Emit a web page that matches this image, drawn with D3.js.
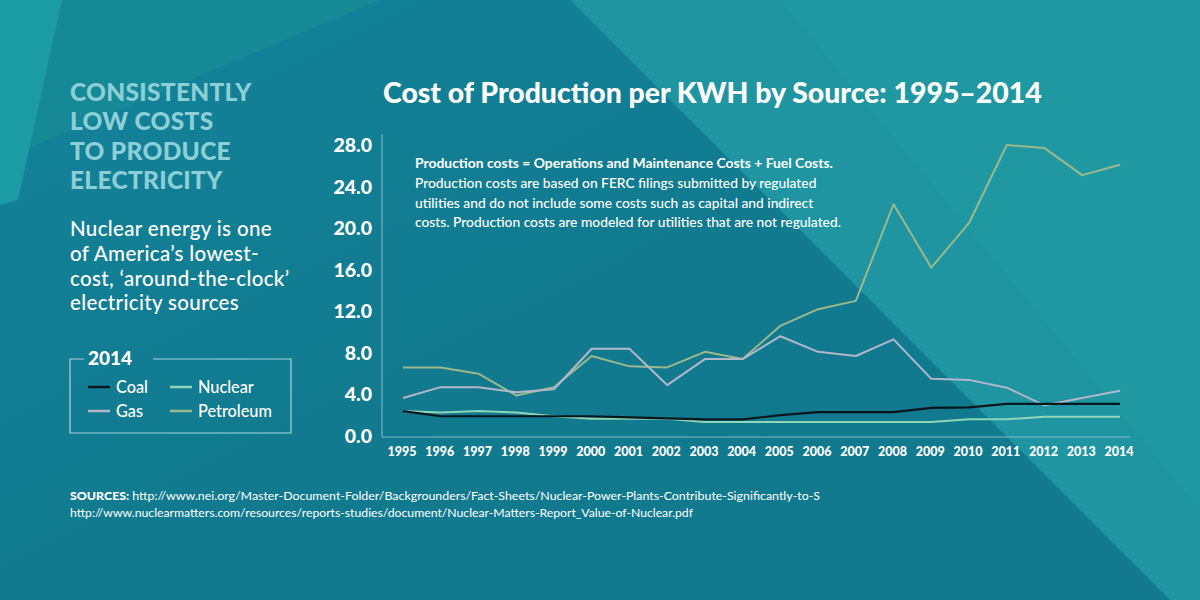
<!DOCTYPE html>
<html><head><meta charset="utf-8">
<script src="https://cdn.jsdelivr.net/npm/d3@7"></script>
<style>
html,body{margin:0;padding:0;background:#127b90;}
svg{display:block;}
text{font-family:Lato,"Open Sans",sans-serif;}
</style></head>
<body><svg id="c" width="1200" height="600"></svg>
<script>
const years = [1995,1996,1997,1998,1999,2000,2001,2002,2003,2004,2005,2006,2007,2008,2009,2010,2011,2012,2013,2014];
const coal      = [2.4,1.9,1.9,1.9,1.9,1.9,1.8,1.7,1.6,1.6,2.0,2.3,2.3,2.3,2.7,2.75,3.1,3.1,3.1,3.1];
const nuclear   = [2.4,2.25,2.4,2.25,1.9,1.65,1.65,1.65,1.35,1.35,1.35,1.35,1.35,1.35,1.35,1.6,1.6,1.85,1.85,1.85];
const gas       = [3.65,4.7,4.7,4.2,4.5,8.4,8.4,4.9,7.4,7.4,9.6,8.1,7.7,9.3,5.5,5.4,4.65,2.95,3.65,4.35];
const petroleum = [6.6,6.6,6.0,3.9,4.7,7.7,6.7,6.6,8.1,7.4,10.6,12.2,13.0,22.3,16.2,20.5,28.0,27.7,25.1,26.1];
const yTicks = [0,4,8,12,16,20,24,28];
const seriesNames = ["Coal","Nuclear","Gas","Petroleum"];
const seriesColors = ["#07171c","#8fd6b6","#b2b7ca","#9cb98b"];

const svg = d3.select("#c");

// background
const defs = svg.append("defs");
const g1 = defs.append("linearGradient").attr("id","bg").attr("x1","0").attr("y1","0").attr("x2","1").attr("y2","1");
g1.append("stop").attr("offset","0").attr("stop-color","#13839a");
g1.append("stop").attr("offset","0.5").attr("stop-color","#117a8f");
g1.append("stop").attr("offset","1").attr("stop-color","#12798e");
svg.append("rect").attr("width",1200).attr("height",600).attr("fill","url(#bg)");
const bgPolys = [
  {pts:[[0,0],[380,0],[0,160]], c:"#168996", o:0.9},
  {pts:[[0,0],[62,0],[18,200],[0,205]], c:"#1b9ca5", o:1},
  {pts:[[470,0],[1200,0],[1200,600],[1170,600],[610,0]], c:"#1a8c9c", o:0.6},
  {pts:[[570,0],[1200,0],[1200,600],[1170,600]], c:"#1e95a1", o:1},
  {pts:[[780,0],[1200,0],[1200,510]], c:"#1f98a2", o:1}
];
svg.selectAll("polygon.bg").data(bgPolys).join("polygon").attr("class","bg")
  .attr("points",d=>d.pts.map(p=>p.join(",")).join(" "))
  .attr("fill",d=>d.c).attr("opacity",d=>d.o);

// left heading
const head = ["CONSISTENTLY","LOW COSTS","TO PRODUCE","ELECTRICITY"];
svg.selectAll("text.head").data(head).join("text").attr("class","head")
  .attr("x",70).attr("y",(d,i)=>101+i*29.3).text(d=>d)
  .attr("fill","#8dcfd6").attr("font-size",24.5).attr("font-weight",900).attr("letter-spacing",0.3);
const para = ["Nuclear energy is one","of America\u2019s lowest-","cost, \u2018around-the-clock\u2019","electricity sources"];
svg.selectAll("text.para").data(para).join("text").attr("class","para")
  .attr("x",70).attr("y",(d,i)=>236+i*24.8).text(d=>d)
  .attr("fill","#ffffff").attr("font-size",20.5).attr("font-weight",500).attr("letter-spacing",0.35);

// title
svg.append("text").attr("x",383).attr("y",103).text("Cost of Production per KWH by Source: 1995\u20132014")
  .attr("fill","#fff").attr("font-size",28.4).attr("font-weight",900);

// scales
const x = d3.scalePoint().domain(years).range([403,1120]);
const y = d3.scaleLinear().domain([0,28]).range([436,145]);

// axes lines
svg.append("line").attr("x1",382).attr("x2",382).attr("y1",134).attr("y2",y(0)+1)
  .attr("stroke","#7fb9c4").attr("stroke-opacity",0.7).attr("stroke-width",1.5);
svg.append("line").attr("x1",382).attr("x2",1130).attr("y1",y(0)+1).attr("y2",y(0)+1)
  .attr("stroke","#7fb9c4").attr("stroke-opacity",0.7).attr("stroke-width",1.5);

// y tick labels
svg.selectAll("text.yt").data(yTicks).join("text").attr("class","yt")
  .attr("x",372).attr("y",d=>y(d)).attr("dy","0.36em").attr("text-anchor","end")
  .text(d3.format(".1f")).attr("fill","#fff").attr("font-size",19.5).attr("font-weight",900);
// x tick labels
svg.selectAll("text.xt").data(years).join("text").attr("class","xt")
  .attr("x",d=>x(d)-1).attr("y",456).attr("text-anchor","middle")
  .text(d=>d).attr("fill","#fff").attr("font-size",12.5).attr("font-weight",900);

// annotation
const note = ["Production costs are based on FERC filings submitted by regulated",
  "utilities and do not include some costs such as capital and indirect",
  "costs. Production costs are modeled for utilities that are not regulated."];
svg.append("text").attr("x",415).attr("y",168).text("Production costs = Operations and Maintenance Costs + Fuel Costs.")
  .attr("fill","#fff").attr("font-size",13.9).attr("font-weight",700);
svg.selectAll("text.note").data(note).join("text").attr("class","note")
  .attr("x",415).attr("y",(d,i)=>188+i*19.6).text(d=>d)
  .attr("fill","#fff").attr("font-size",13.8).attr("font-weight",500);

// lines
const allSeries = [coal,nuclear,gas,petroleum];
const line = d3.line().x((d,i)=>x(years[i])).y(d=>y(d));
const drawOrder = [3,2,1,0];
svg.selectAll("path.s").data(drawOrder).join("path").attr("class","s")
  .attr("d",k=>line(allSeries[k])).attr("fill","none")
  .attr("stroke",k=>seriesColors[k]).attr("stroke-width",k=>k===0?2.2:2)
  .attr("stroke-linejoin","round");

// legend
const lg = svg.append("g");
lg.append("path").attr("d","M84,359 H70 V433 H291 V359 H153")
  .attr("fill","none").attr("stroke","#a9d6de").attr("stroke-width",1.2);
lg.append("text").attr("x",88).attr("y",365).text("2014").attr("fill","#fff")
  .attr("font-size",19).attr("font-weight",900);
const legPos = [[88,387],[170,387],[88,411],[170,411]];
seriesNames.forEach((n,i)=>{
  lg.append("line").attr("x1",legPos[i][0]).attr("x2",legPos[i][0]+22)
    .attr("y1",legPos[i][1]).attr("y2",legPos[i][1])
    .attr("stroke",seriesColors[i]).attr("stroke-width",2.5);
  lg.append("text").attr("x",legPos[i][0]+28).attr("y",legPos[i][1]).attr("dy","0.35em")
    .text(n).attr("fill","#fff").attr("font-size",16.3).attr("font-weight",500);
});

// sources
const s1 = svg.append("text").attr("x",70).attr("y",500).attr("fill","#fff").attr("font-size",12)
  .attr("textLength",750).attr("lengthAdjust","spacingAndGlyphs");
s1.append("tspan").attr("font-weight",900).text("SOURCES: ");
s1.append("tspan").text("http://www.nei.org/Master-Document-Folder/Backgrounders/Fact-Sheets/Nuclear-Power-Plants-Contribute-Significantly-to-S");
svg.append("text").attr("x",70).attr("y",517).attr("fill","#fff").attr("font-size",12)
  .attr("textLength",623).attr("lengthAdjust","spacingAndGlyphs")
  .text("http://www.nuclearmatters.com/resources/reports-studies/document/Nuclear-Matters-Report_Value-of-Nuclear.pdf");
</script></body></html>
